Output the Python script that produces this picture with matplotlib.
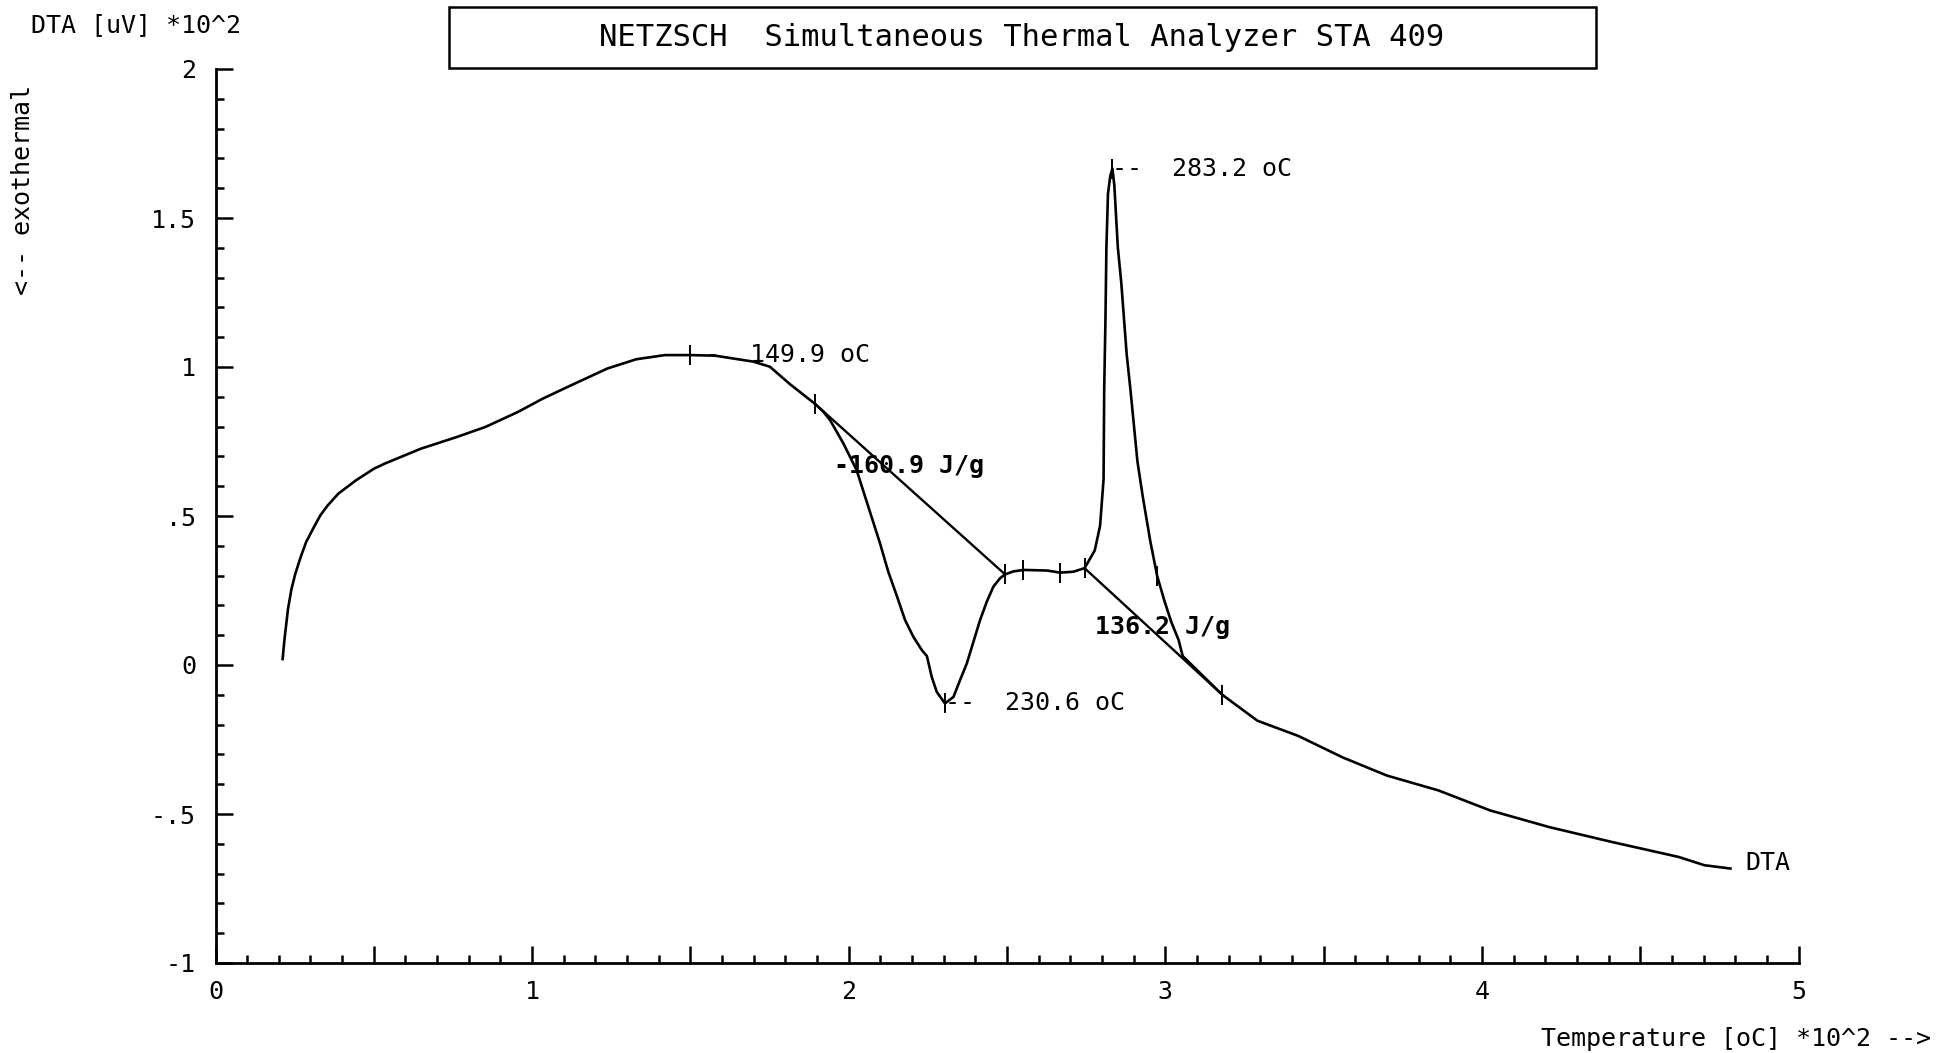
import numpy as np
import matplotlib
matplotlib.use("Agg")
import matplotlib.pyplot as plt
from matplotlib.patches import Rectangle
from matplotlib.ticker import MultipleLocator

plt.rcParams['font.family'] = ['DejaVu Sans Mono']

# DTA curve, temperature in 100 oC, signal in 100 uV
temp = [0.212, 0.218, 0.229, 0.240, 0.252, 0.269, 0.286, 0.308, 0.331, 0.354,
        0.388, 0.444, 0.501, 0.535, 0.592, 0.649, 0.762, 0.853, 0.955, 1.034,
        1.136, 1.238, 1.329, 1.420, 1.499, 1.578, 1.699, 1.751, 1.815, 1.894,
        1.920, 1.941, 1.983, 2.025, 2.062, 2.099, 2.125, 2.152, 2.178, 2.204,
        2.231, 2.247, 2.262, 2.278, 2.304, 2.331, 2.352, 2.373, 2.394, 2.415,
        2.436, 2.457, 2.478, 2.494, 2.520, 2.552, 2.626, 2.668, 2.710, 2.745,
        2.777, 2.794, 2.805, 2.807, 2.811, 2.814, 2.819, 2.826, 2.833, 2.839,
        2.850, 2.861, 2.878, 2.890, 2.912, 2.929, 2.952, 2.974, 2.997, 3.019,
        3.042, 3.055, 3.180, 3.291, 3.420, 3.560, 3.700, 3.863, 4.026, 4.213,
        4.411, 4.621, 4.703, 4.785]
dta = [0.020, 0.087, 0.188, 0.255, 0.306, 0.362, 0.412, 0.457, 0.502, 0.535,
       0.575, 0.620, 0.659, 0.676, 0.701, 0.726, 0.765, 0.799, 0.849, 0.894,
       0.945, 0.995, 1.026, 1.040, 1.040, 1.038, 1.018, 1.001, 0.942, 0.876,
       0.850, 0.822, 0.744, 0.654, 0.531, 0.408, 0.313, 0.232, 0.151, 0.095,
       0.050, 0.030, -0.039, -0.090, -0.129, -0.107, -0.050, 0.005, 0.078, 0.151,
       0.212, 0.263, 0.291, 0.304, 0.314, 0.319, 0.317, 0.310, 0.313, 0.325,
       0.384, 0.467, 0.623, 0.923, 1.162, 1.403, 1.582, 1.640, 1.666, 1.610,
       1.402, 1.282, 1.043, 0.923, 0.683, 0.564, 0.419, 0.300, 0.216, 0.144,
       0.084, 0.030, -0.100, -0.187, -0.238, -0.310, -0.371, -0.421, -0.488, -0.544,
       -0.594, -0.644, -0.672, -0.683]

# integration baselines
base1_t = [1.894, 2.494]
base1_v = [0.876, 0.304]
base2_t = [2.745, 3.180]
base2_v = [0.325, -0.100]

# evaluation marks on the curve
mark_t = [1.499, 1.894, 2.304, 2.494, 2.552, 2.668, 2.745, 2.833, 2.974, 3.180]
mark_v = [1.040, 0.876, -0.129, 0.304, 0.319, 0.310, 0.325, 1.666, 0.300, -0.100]

# peak labels
peak_t = [1.499, 2.304, 2.833]
peak_v = [1.040, -0.129, 1.666]
peak_labels = ["149.9 oC", "230.6 oC", "283.2 oC"]

# peak areas
area_t = [1.955, 2.778]
area_v = [0.668, 0.128]
area_labels = ["-160.9 J/g", "136.2 J/g"]

fig = plt.figure(figsize=(19.44, 10.53), dpi=100)
ax = fig.add_axes([215.5 / 1944, 1 - 963 / 1053, 1583 / 1944, 894 / 1053])

ax.plot(temp, dta, color='black', lw=1.9, solid_joinstyle='round')
ax.plot(base1_t, base1_v, color='black', lw=1.7)
ax.plot(base2_t, base2_v, color='black', lw=1.7)
ax.plot(mark_t, mark_v, ls='none', marker='|', ms=14, mew=1.4, color='black')

for t, v, lab in zip(peak_t, peak_v, peak_labels):
    ax.text(t, v, "--  " + lab, fontsize=18, ha='left', va='center')

for t, v, lab in zip(area_t, area_v, area_labels):
    ax.text(t, v, lab, fontsize=18, fontweight='bold', ha='left', va='center')

ax.text(4.831, -0.664, "DTA", fontsize=18, ha='left', va='center')

ax.set_xlim(0, 5)
ax.set_ylim(-1, 2)
for s in ['top', 'right']:
    ax.spines[s].set_visible(False)
for s in ['left', 'bottom']:
    ax.spines[s].set_linewidth(2.0)

ax.set_xticks(np.arange(0, 5.01, 0.5))
ax.set_xticklabels(['0', '', '1', '', '2', '', '3', '', '4', '', '5'])
ax.xaxis.set_minor_locator(MultipleLocator(0.1))
ax.set_yticks([-1, -0.5, 0, 0.5, 1, 1.5, 2])
ax.set_yticklabels(['-1', '-.5', '0', '.5', '1', '1.5', '2'])
ax.yaxis.set_minor_locator(MultipleLocator(0.1))

ax.tick_params(which='both', direction='in', width=1.8, labelsize=18)
ax.tick_params(which='major', length=12)
ax.tick_params(which='minor', length=6)
ax.tick_params(axis='x', pad=12)
ax.tick_params(axis='y', pad=14)

# title box
fig.patches.append(Rectangle((449 / 1944, 1 - 68 / 1053), 1147 / 1944, 61 / 1053,
                             transform=fig.transFigure, fill=False,
                             edgecolor='black', lw=1.8))
fig.text(1022 / 1944, 1 - 38 / 1053,
         "NETZSCH  Simultaneous Thermal Analyzer STA 409",
         fontsize=22, ha='center', va='center')

fig.text(31 / 1944, 1 - 25 / 1053, "DTA [uV] *10^2", fontsize=18,
         ha='left', va='center')
fig.text(23 / 1944, 1 - 190 / 1053, "<-- exothermal", fontsize=18,
         rotation=90, ha='center', va='center')
fig.text(1541 / 1944, 1 - 1039 / 1053, "Temperature [oC] *10^2 -->",
         fontsize=18, ha='left', va='center')

fig.savefig("out.png", dpi=100, facecolor='white')
